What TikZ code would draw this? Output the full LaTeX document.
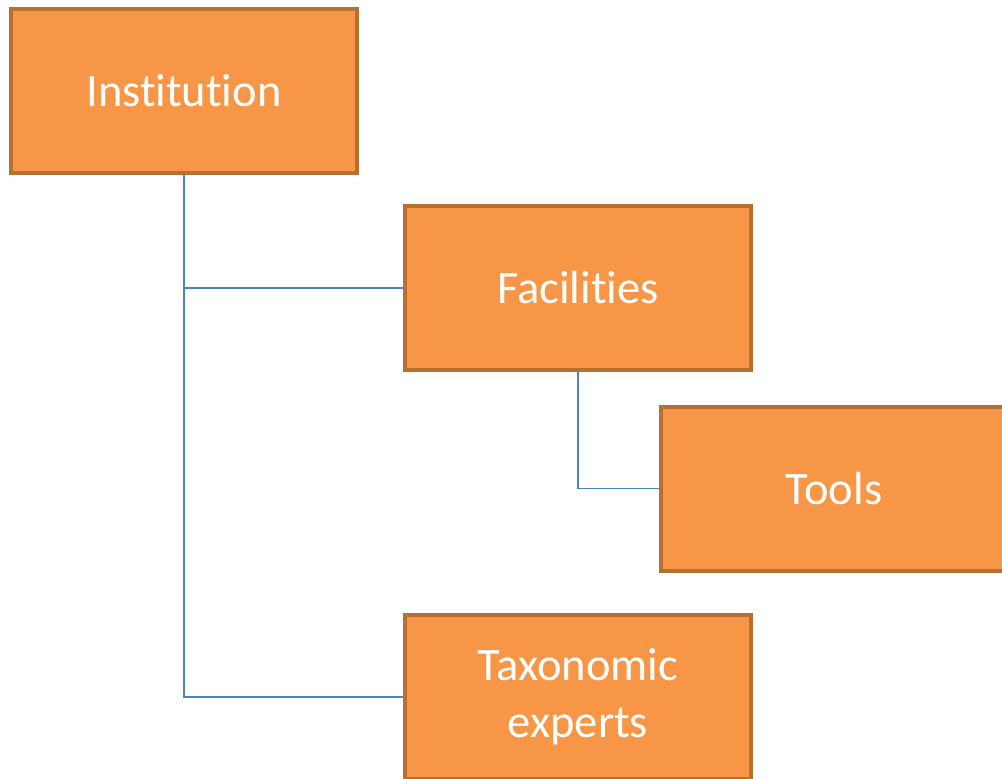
\documentclass[tikz,border=0pt]{standalone}
\usepackage{fontspec}
\setmainfont[Ligatures=NoCommon]{Carlito}
\usetikzlibrary{positioning}
\definecolor{boxfill}{HTML}{F79646}
\definecolor{boxline}{HTML}{B6702F}
\definecolor{linkblue}{HTML}{4F81BD}
\begin{document}
\begin{tikzpicture}
  [x=1pt,y=-1pt,
   orgN/.style={rectangle,draw=boxline,fill=boxfill,line width=4pt,
     minimum width=346pt,minimum height=164pt,inner sep=0pt,
     text=white,align=center,font=\fontsize{46.5}{57}\selectfont},
   link/.style={draw=linkblue,line width=1.5pt}]

  \useasboundingbox (0,0) rectangle (1002,779);

  \node[orgN] (inst)  at (184,91)    {Institution};
  \node[orgN] (fac)   at (578,288)   {Facilities};
  \node[orgN] (tools) at (834,488.5) {Tools};
  \node[orgN] (tax)   at (578,697)   {Taxonomic\\experts};

  \draw [link] (inst.south) |- (fac.west);
  \draw [link] (inst.south) |- (tax.west);
  \draw [link] (fac.south)  |- (tools.west);

\end{tikzpicture}
\end{document}
